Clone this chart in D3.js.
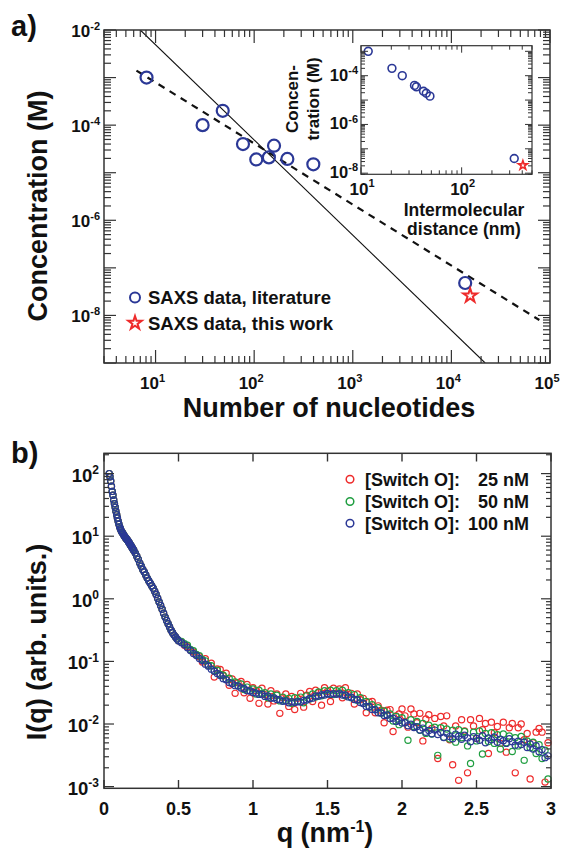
<!DOCTYPE html>
<html><head><meta charset="utf-8">
<script src="https://cdn.jsdelivr.net/npm/d3@7"></script>
<style>
body{margin:0;background:#fff}
svg{display:block}
text{font-family:"Liberation Sans",Arial,Helvetica,sans-serif;font-weight:bold;fill:#111}
</style>
</head><body>
<svg id="fig" width="566" height="853"></svg>
<script>
// ---------- Panel a data ----------
const nucleotidesLit = [8.1, 30, 48, 77, 105, 141, 159, 217, 398, 13800];
const concLit = [1.0e-3, 1.0e-4, 2.0e-4, 4.0e-5, 1.9e-5, 2.1e-5, 3.7e-5, 1.95e-5, 1.5e-5, 4.8e-8];
const nucleotidesThisWork = [15500];
const concThisWork = [2.6e-8];
const solidLineN = [7.0, 22000];
const solidLineC = [1.0e-2, 1.0e-9];
const dashedLineN = [6.4, 78000];
const dashedLineC = [1.4e-3, 8.0e-9];
// inset
const distanceLit = [11.8, 20.3, 25.7, 34, 35.5, 41.8, 44.5, 48.4, 333];
const concInsetLit = [1.0e-3, 2.0e-4, 1.0e-4, 4.0e-5, 3.5e-5, 2.3e-5, 1.9e-5, 1.45e-5, 4.0e-8];
const distanceThisWork = [406];
const concInsetThisWork = [2.1e-8];
const legendA = ["SAXS data, literature", "SAXS data, this work"];

// ---------- Panel b data ----------
const qLow = [0.035,0.04,0.045,0.05,0.055,0.06,0.065,0.07,0.075,0.08,0.085,0.09,0.095,0.1,0.105,0.11,0.115,0.12,0.125,0.13,0.135,0.14,0.145,0.15,0.155,0.16,0.165,0.17,0.175,0.18,0.185,0.19,0.195,0.2,
 0.21,0.22,0.23,0.24,0.25,0.26,0.27,0.28,0.29,0.3,0.31,0.32,0.33,0.34,0.35,0.36,0.37,0.38,0.39,0.4,0.41,0.42,0.43,0.44,0.45,0.46,0.47,0.48,0.49,0.5];
// low-q region: the three concentrations coincide
const intensityLowQ = [100,89,76,63,52,45,38,33,29,25,22,19.5,17.4,15.5,14.1,13.2,12.3,11.7,11.2,10.7,10.2,9.8,9.4,9.1,8.8,8.5,8.1,7.8,7.4,7.1,6.8,6.5,6.2,5.9,
 5.37,4.79,4.27,3.72,3.31,2.95,2.69,2.40,2.14,1.95,1.78,1.62,1.48,1.32,1.17,1.02,0.89,0.78,0.68,0.59,0.51,0.45,0.40,0.355,0.316,0.288,0.263,0.245,0.229,0.214];
const qHigh = [0.52,0.54,0.56,0.58,0.6,0.62,0.64,0.66,0.68,0.7,0.72,0.74,0.76,0.78,0.8,0.82,0.84,0.86,0.88,0.9,0.92,0.94,0.96,0.98,
 1,1.02,1.04,1.06,1.08,1.1,1.12,1.14,1.16,1.18,1.2,1.22,1.24,1.26,1.28,1.3,1.32,1.34,1.36,1.38,1.4,1.42,1.44,1.46,1.48,1.5,
 1.52,1.54,1.56,1.58,1.6,1.62,1.64,1.66,1.68,1.7,1.72,1.74,1.76,1.78,1.8,1.82,1.84,1.86,1.88,1.9,1.92,1.94,1.96,1.98,
 2,2.02,2.04,2.06,2.08,2.1,2.12,2.14,2.16,2.18,2.2,2.22,2.24,2.26,2.28,2.3,2.32,2.34,2.36,2.38,2.4,2.42,2.44,2.46,2.48,2.5,
 2.52,2.54,2.56,2.58,2.6,2.62,2.64,2.66,2.68,2.7,2.72,2.74,2.76,2.78,2.8,2.82,2.84,2.86,2.88,2.9,2.92,2.94,2.96,2.98];
const intensity25nM = [0.203,0.181,0.171,0.152,0.141,0.128,0.119,0.0977,0.110,0.0871,0.0933,0.0562,0.0759,0.0741,0.0589,0.0646,0.0417,0.0525,0.0309,0.0457,0.0479,0.0316,0.0427,0.0257,
 0.0380,0.0339,0.0214,0.0372,0.0295,0.0209,0.0339,0.0234,0.0302,0.0148,0.0263,0.0302,0.0191,0.0275,0.0170,0.0257,0.0309,0.0186,0.0288,0.0331,0.0229,0.0347,0.0316,0.0200,0.0380,0.0331,
 0.0229,0.0372,0.0309,0.0363,0.0263,0.0380,0.0295,0.0309,0.0209,0.0302,0.0245,0.0257,0.0151,0.0224,0.0229,0.0151,0.0195,0.0166,0.0105,0.0166,0.0170,0.00759,0.0135,0.0145,
 0.0174,0.0135,0.00891,0.0174,0.0145,0.0105,0.0148,0.00537,0.0120,0.0141,0.00851,0.0123,0.00282,0.0132,0.00933,0.0135,0.00562,0.00224,0.00933,0.00126,0.0117,0.00776,0.00166,0.0117,0.00933,0.00589,
 0.0123,0.00813,0.0102,0.00339,0.0107,0.00724,0.00912,0.00490,0.0107,0.00355,0.00871,0.0102,0.00166,0.00871,0.0100,0.00562,0.00708,0.00132,0.00501,0.00741,0.00851,0.00741,0.00118,0.00501];
const intensity50nM = [0.209,0.191,0.182,0.155,0.148,0.129,0.123,0.107,0.102,0.0871,0.0851,0.0708,0.0724,0.0617,0.0603,0.0513,0.0537,0.0447,0.0468,0.0407,0.0437,0.0355,0.0389,0.0339,
 0.0363,0.0302,0.0347,0.0309,0.0316,0.0263,0.0302,0.0263,0.0288,0.0234,0.0269,0.0240,0.0257,0.0214,0.0263,0.0234,0.0269,0.0219,0.0282,0.0251,0.0302,0.0269,0.0324,0.0282,0.0339,0.0302,
 0.0347,0.0295,0.0339,0.0316,0.0347,0.0282,0.0316,0.0263,0.0295,0.0240,0.0263,0.0214,0.0229,0.0186,0.0204,0.0170,0.0182,0.0148,0.0162,0.0138,0.0145,0.0112,0.0132,0.00977,
 0.0126,0.0105,0.00550,0.0117,0.00912,0.0110,0.00794,0.0102,0.00708,0.00955,0.00692,0.00891,0.00316,0.00871,0.00617,0.00832,0.00575,0.00794,0.00513,0.00813,0.00603,0.00759,0.00447,0.00234,0.00741,0.00537,
 0.00776,0.00331,0.00708,0.00525,0.00724,0.00490,0.00676,0.00398,0.00692,0.00501,0.00646,0.00363,0.00603,0.00447,0.00631,0.00263,0.00537,0.00417,0.00513,0.00339,0.00468,0.00282,0.00380,0.00132];
const intensity100nM = [0.199,0.184,0.165,0.149,0.134,0.124,0.111,0.103,0.0905,0.0840,0.0752,0.0698,0.0641,0.0595,0.0530,0.0508,0.0461,0.0442,0.0410,0.0404,0.0376,0.0369,0.0341,0.0336,
 0.0318,0.0314,0.0297,0.0300,0.0276,0.0280,0.0258,0.0262,0.0246,0.0244,0.0230,0.0233,0.0219,0.0228,0.0220,0.0227,0.0224,0.0239,0.0241,0.0256,0.0259,0.0280,0.0277,0.0293,0.0291,0.0307,
 0.0297,0.0306,0.0298,0.0305,0.0291,0.0292,0.0271,0.0267,0.0247,0.0244,0.0220,0.0213,0.0191,0.0190,0.0170,0.0169,0.0151,0.0152,0.0137,0.0139,0.0122,0.0124,0.0110,0.0114,
 0.0104,0.0106,0.0094,0.0099,0.0088,0.0091,0.0080,0.0086,0.0074,0.0079,0.0070,0.0080,0.0068,0.0073,0.0061,0.0071,0.0063,0.0058,0.0069,0.0064,0.0057,0.0066,0.0060,0.0052,0.0063,0.0059,
 0.0055,0.0065,0.0050,0.0060,0.0056,0.0062,0.0051,0.0057,0.0054,0.0049,0.0058,0.0052,0.0046,0.0053,0.0047,0.0051,0.0042,0.0048,0.0040,0.0045,0.0036,0.0039,0.0029,0.0031];
const concentrationLabels = ["25 nM", "50 nM", "100 nM"];
const xTicksB = [0, 0.5, 1, 1.5, 2, 2.5, 3];

// ---------- styling ----------
const BLUE = "#2b3896", RED = "#ee2b2b", GREEN = "#1f9e40", AXIS = "#333";
const svg = d3.select("#fig");

function logTicks(scale) {
  const [a, b] = scale.domain();
  const out = [];
  for (let k = Math.floor(Math.log10(Math.min(a,b))); k <= Math.ceil(Math.log10(Math.max(a,b))); k++) {
    for (let m = 1; m <= 9; m++) {
      const v = m * Math.pow(10, k);
      if (v >= Math.min(a,b) * 0.999 && v <= Math.max(a,b) * 1.001) out.push({v, major: m === 1, k});
    }
  }
  return out;
}
function powLabel(g, x, y, base, exp, anchor, fs, sfs) {
  const t = g.append("text").attr("x", x).attr("y", y).attr("text-anchor", anchor).style("font-size", fs + "px");
  t.append("tspan").text(base);
  t.append("tspan").attr("dy", -fs * 0.42).style("font-size", sfs + "px").text(exp);
  return t;
}
function frame(g, x0, x1, y0, y1, w) {
  g.append("rect").attr("x", x0).attr("y", y0).attr("width", x1 - x0).attr("height", y1 - y0)
    .attr("fill", "none").attr("stroke", AXIS).attr("stroke-width", w);
}
function logYTicks(g, y, x0, x1, maj, min, w) {
  logTicks(y).forEach(t => {
    const L = t.major ? maj : min, yy = y(t.v);
    g.append("line").attr("x1", x0).attr("x2", x0 + L).attr("y1", yy).attr("y2", yy).attr("stroke", AXIS).attr("stroke-width", w);
    g.append("line").attr("x1", x1).attr("x2", x1 - L).attr("y1", yy).attr("y2", yy).attr("stroke", AXIS).attr("stroke-width", w);
  });
}
function logXTicks(g, x, y0, y1, maj, min, w) {
  logTicks(x).forEach(t => {
    const L = t.major ? maj : min, xx = x(t.v);
    g.append("line").attr("x1", xx).attr("x2", xx).attr("y1", y1).attr("y2", y1 - L).attr("stroke", AXIS).attr("stroke-width", w);
    g.append("line").attr("x1", xx).attr("x2", xx).attr("y1", y0).attr("y2", y0 + L).attr("stroke", AXIS).attr("stroke-width", w);
  });
}

// ================= Panel a =================
const gA = svg.append("g");
const xA = d3.scaleLog().domain([3, 1e5]).range([104, 550]);
const yA = d3.scaleLog().domain([1e-9, 1e-2]).range([363, 30]);
svg.append("clipPath").attr("id", "clipA").append("rect").attr("x", 104).attr("y", 30).attr("width", 446).attr("height", 333);

const lineA = d3.line().x(d => xA(d[0])).y(d => yA(d[1]));
gA.append("path").attr("clip-path", "url(#clipA)")
  .attr("d", lineA(d3.zip(solidLineN, solidLineC))).attr("fill", "none").attr("stroke", "#111").attr("stroke-width", 1.1);
gA.append("path").attr("clip-path", "url(#clipA)")
  .attr("d", lineA(d3.zip(dashedLineN, dashedLineC))).attr("fill", "none").attr("stroke", "#111").attr("stroke-width", 2.2).attr("stroke-dasharray", "7,6");

gA.selectAll(".lit").data(d3.zip(nucleotidesLit, concLit)).join("circle")
  .attr("cx", d => xA(d[0])).attr("cy", d => yA(d[1])).attr("r", 6)
  .attr("fill", "none").attr("stroke", BLUE).attr("stroke-width", 2.2);
const star = d3.symbol().type(d3.symbolStar);
gA.selectAll(".tw").data(d3.zip(nucleotidesThisWork, concThisWork)).join("path")
  .attr("transform", d => `translate(${xA(d[0])},${yA(d[1])})`).attr("d", star.size(60)())
  .attr("fill", "none").attr("stroke", RED).attr("stroke-width", 2);

frame(gA, 104, 550, 30, 363, 1.5);
logYTicks(gA, yA, 104, 550, 12, 7, 1.2);
logXTicks(gA, xA, 30, 363, 13, 7, 1.2);

[1e-2, 1e-4, 1e-6, 1e-8].forEach(v => powLabel(gA, 100, yA(v) + 7, "10", "-" + (-Math.round(Math.log10(v))), "end", 17, 11));
[1e1, 1e2, 1e3, 1e4, 1e5].forEach(v => powLabel(gA, xA(v) - 3, 389, "10", String(Math.round(Math.log10(v))), "middle", 17, 11));

gA.append("text").attr("x", 329).attr("y", 417).attr("text-anchor", "middle").style("font-size", "27px").text("Number of nucleotides");
gA.append("text").attr("transform", "translate(47,206) rotate(-90)").attr("text-anchor", "middle").style("font-size", "27px").text("Concentration (M)");
svg.append("text").attr("x", 11).attr("y", 36).style("font-size", "29px").text("a)");

// legend a
gA.append("circle").attr("cx", 135).attr("cy", 297.5).attr("r", 5).attr("fill", "none").attr("stroke", BLUE).attr("stroke-width", 2);
gA.append("path").attr("transform", "translate(135,323)").attr("d", star.size(55)()).attr("fill", "none").attr("stroke", RED).attr("stroke-width", 2);
gA.append("text").attr("x", 148).attr("y", 304).style("font-size", "18.5px").text(legendA[0]);
gA.append("text").attr("x", 148).attr("y", 329.5).style("font-size", "18.5px").text(legendA[1]);

// ---------- inset ----------
const gI = svg.append("g");
const xI = d3.scaleLog().domain([10, 500]).range([361, 532]);
const yI = d3.scaleLog().domain([9e-9, 1.7e-3]).range([174.3, 45.7]);
gI.append("rect").attr("x", 361).attr("y", 45.7).attr("width", 171).attr("height", 128.6).attr("fill", "#fff");
gI.selectAll(".il").data(d3.zip(distanceLit, concInsetLit)).join("circle")
  .attr("cx", d => xI(d[0])).attr("cy", d => yI(d[1])).attr("r", 3.9)
  .attr("fill", "none").attr("stroke", BLUE).attr("stroke-width", 1.6);
gI.selectAll(".it").data(d3.zip(distanceThisWork, concInsetThisWork)).join("path")
  .attr("transform", d => `translate(${xI(d[0])},${yI(d[1])})`).attr("d", star.size(26)())
  .attr("fill", "none").attr("stroke", RED).attr("stroke-width", 1.6);
frame(gI, 361, 532, 45.7, 174.3, 1.2);
logYTicks(gI, yI, 361, 532, 7, 4, 1);
logXTicks(gI, xI, 45.7, 174.3, 7, 4, 1);
[1e-4, 1e-6, 1e-8].forEach(v => powLabel(gI, 358, yI(v) + 5, "10", "-" + (-Math.round(Math.log10(v))), "end", 16.5, 11));
[10, 100].forEach(v => powLabel(gI, xI(v) + 1, 194.5, "10", String(Math.round(Math.log10(v))), "middle", 17, 11));
gI.append("text").attr("transform", "translate(298,99) rotate(-90)").attr("text-anchor", "middle").style("font-size", "17px").text("Concen-");
gI.append("text").attr("transform", "translate(319,99) rotate(-90)").attr("text-anchor", "middle").style("font-size", "17px").text("tration (M)");
gI.append("text").attr("x", 464).attr("y", 215.5).attr("text-anchor", "middle").style("font-size", "17.5px").text("Intermolecular");
gI.append("text").attr("x", 464).attr("y", 235).attr("text-anchor", "middle").style("font-size", "17.5px").text("distance (nm)");

// ================= Panel b =================
const gB = svg.append("g");
const xB = d3.scaleLinear().domain([0, 3]).range([104, 551]);
const yB = d3.scaleLog().domain([9.4e-4, 211]).range([788.3, 453.3]);
const series = [
  {label: concentrationLabels[0], color: RED, q: qLow.concat(qHigh), I: intensityLowQ.concat(intensity25nM)},
  {label: concentrationLabels[1], color: GREEN, q: qLow.concat(qHigh), I: intensityLowQ.concat(intensity50nM)},
  {label: concentrationLabels[2], color: BLUE, q: qLow.concat(qHigh), I: intensityLowQ.concat(intensity100nM)}
];
series.forEach(s => {
  gB.append("g").selectAll("circle").data(d3.zip(s.q, s.I)).join("circle")
    .attr("cx", d => xB(d[0])).attr("cy", d => yB(d[1])).attr("r", 3.1)
    .attr("fill", "none").attr("stroke", s.color).attr("stroke-width", 1.2);
});
frame(gB, 104, 551, 453.3, 788.3, 1.5);
logYTicks(gB, yB, 104, 551, 10, 5, 1.2);
xTicksB.forEach(v => {
  gB.append("line").attr("x1", xB(v)).attr("x2", xB(v)).attr("y1", 788.3).attr("y2", 780).attr("stroke", AXIS).attr("stroke-width", 1.4);
  gB.append("line").attr("x1", xB(v)).attr("x2", xB(v)).attr("y1", 453.3).attr("y2", 461.5).attr("stroke", AXIS).attr("stroke-width", 1.4);
  gB.append("text").attr("x", xB(v)).attr("y", 815).attr("text-anchor", "middle").style("font-size", "18px").text(String(v));
});
[1e2, 1e1, 1e0, 1e-1, 1e-2, 1e-3].forEach(v => {
  const e = Math.round(Math.log10(v));
  powLabel(gB, 99, yB(v) + 8, "10", String(e), "end", 18.5, 12);
});
const xl = gB.append("text").attr("x", 325).attr("y", 842).attr("text-anchor", "middle").style("font-size", "27px");
xl.append("tspan").text("q (nm");
xl.append("tspan").attr("dy", -10).style("font-size", "16px").text("-1");
xl.append("tspan").attr("dy", 10).text(")");
gB.append("text").attr("transform", "translate(46,642) rotate(-90)").attr("text-anchor", "middle").style("font-size", "27px").text("I(q) (arb. units.)");
svg.append("text").attr("x", 11).attr("y", 463).style("font-size", "29px").text("b)");

// legend b
const legRows = [479.3, 501.5, 523.3];
series.forEach((s, i) => {
  gB.append("circle").attr("cx", 350).attr("cy", legRows[i]).attr("r", 3.8).attr("fill", "none").attr("stroke", s.color).attr("stroke-width", 1.5);
  gB.append("text").attr("x", 365).attr("y", legRows[i] + 6.5).style("font-size", "18px").text("[Switch O]:");
  gB.append("text").attr("x", 529).attr("y", legRows[i] + 6.5).attr("text-anchor", "end").style("font-size", "18px").text(s.label);
});
</script>
</body></html>
